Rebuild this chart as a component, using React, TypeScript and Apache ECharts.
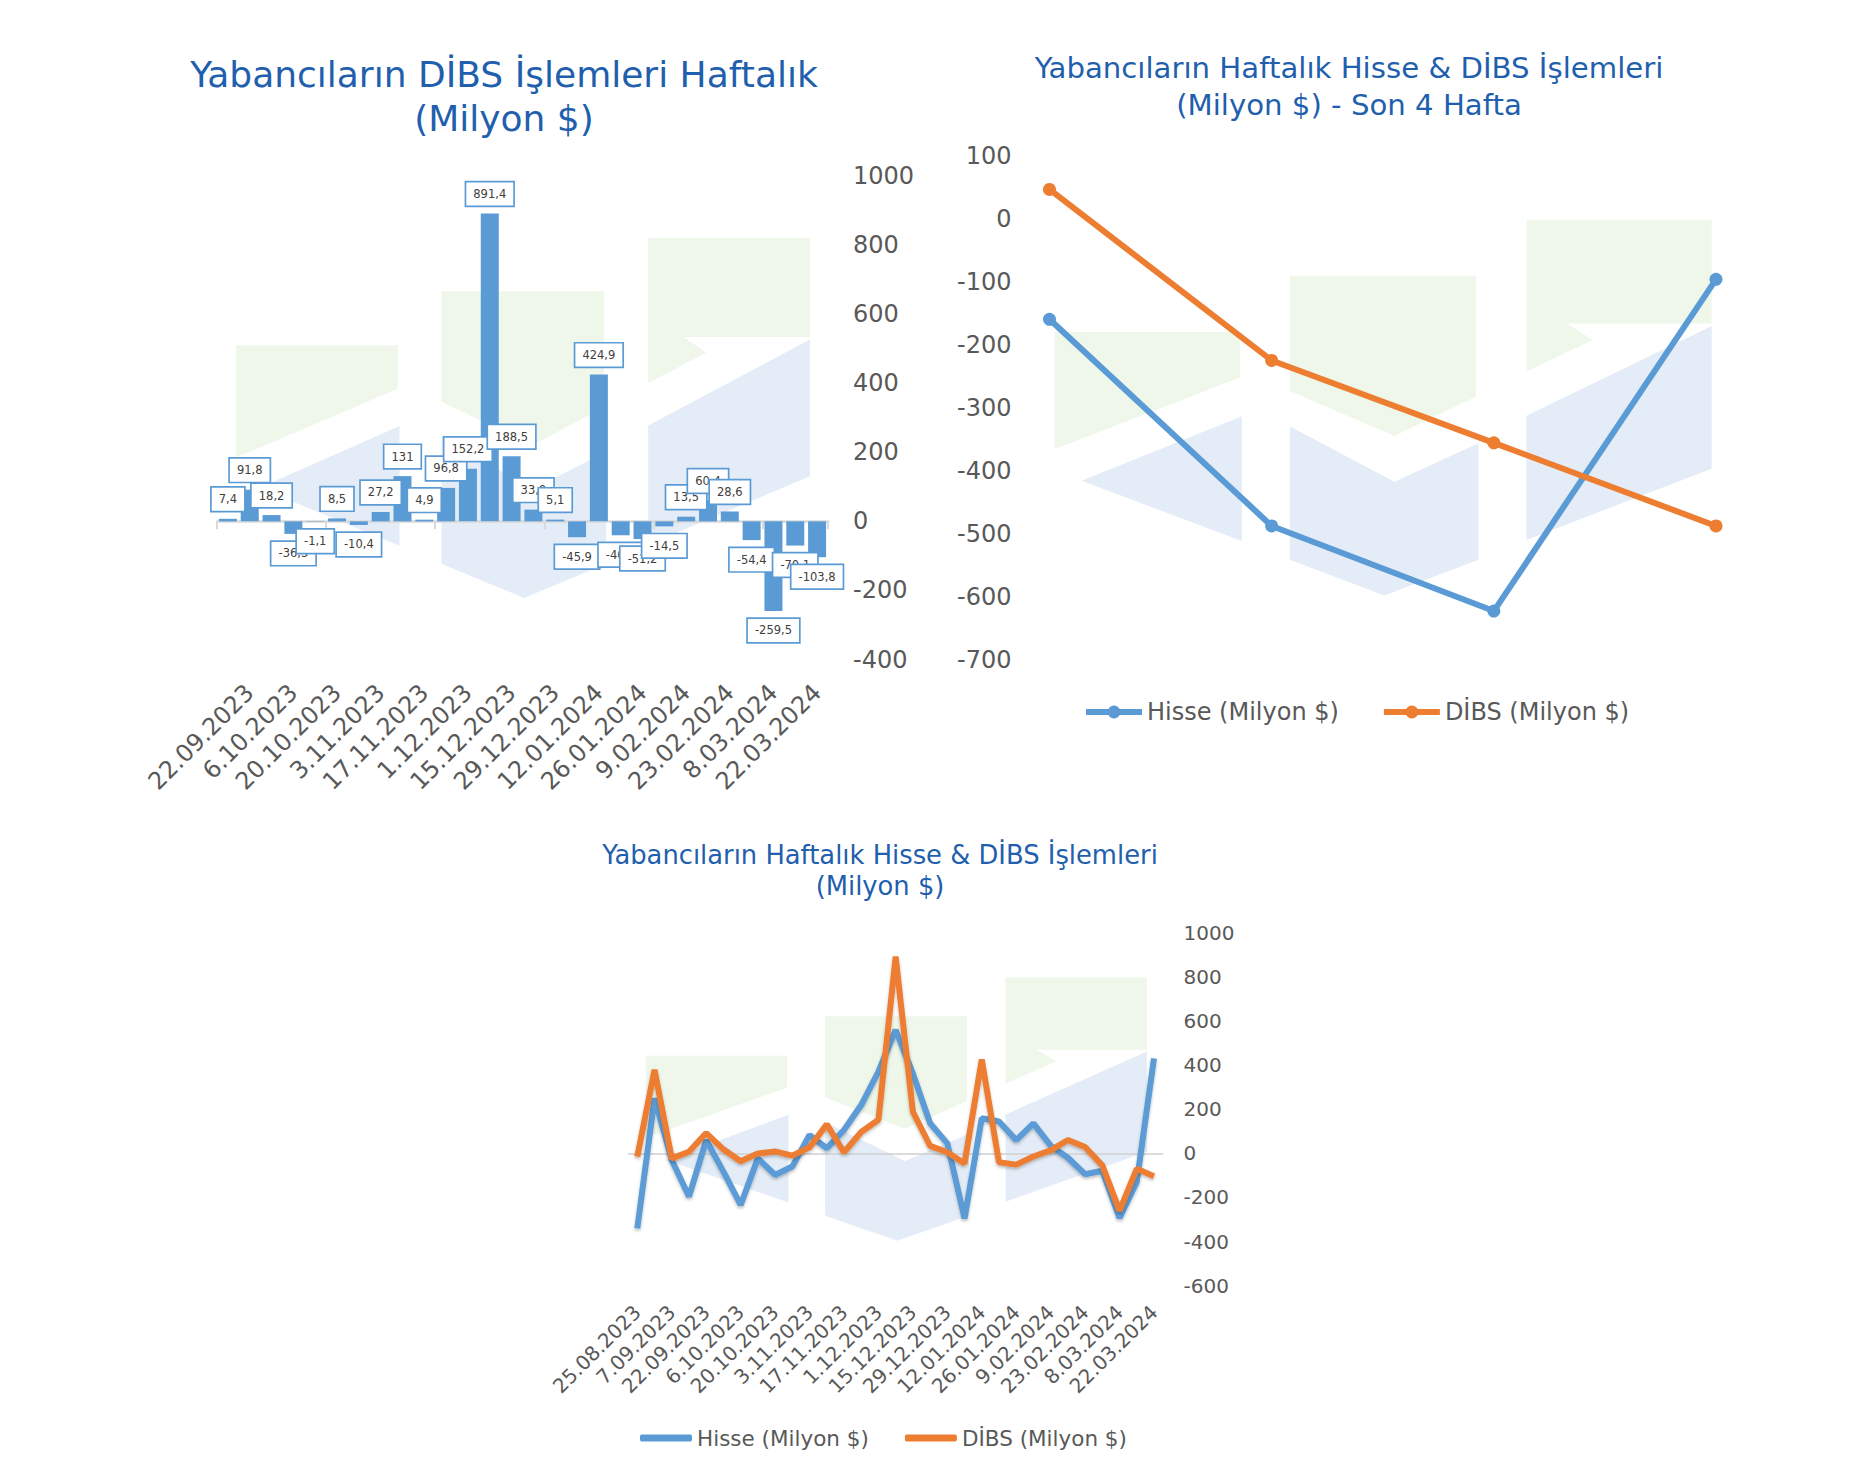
import React, { useEffect, useRef } from 'react';
import * as echarts from 'echarts';

const FONT = 'DejaVu Sans';
const BLUE = '#5B9BD5';
const ORANGE = '#ED7D31';
const AXIS_TEXT = '#595959';
const LABEL_TEXT = '#404040';
const TITLE_COLOR = '#1F5FAD';
const LOGO_GREEN_COLOR = '#eff7ea';
const LOGO_BLUE_COLOR = '#e4edf7';

// ---- Chart 1: weekly DİBS (bars)
const weeklyDates = [
  '15.09.2023', '22.09.2023', '29.09.2023', '6.10.2023', '13.10.2023', '20.10.2023', '27.10.2023',
  '3.11.2023', '10.11.2023', '17.11.2023', '24.11.2023', '1.12.2023', '8.12.2023', '15.12.2023',
  '22.12.2023', '29.12.2023', '5.01.2024', '12.01.2024', '19.01.2024', '26.01.2024', '2.02.2024',
  '9.02.2024', '16.02.2024', '23.02.2024', '1.03.2024', '8.03.2024', '15.03.2024', '22.03.2024',
];
const weeklyDibs = [
  7.4, 91.8, 18.2, -36.3, -1.1, 8.5, -10.4, 27.2, 131, 4.9, 96.8, 152.2, 891.4, 188.5,
  33.9, 5.1, -45.9, 424.9, -40.3, -51.2, -14.5, 13.5, 60.4, 28.6, -54.4, -259.5, -70.1, -103.8,
];

// ---- Chart 2: last 4 weeks
const last4Dates = ['1.03.2024', '8.03.2024', '15.03.2024', '22.03.2024'];
const last4Hisse = [-159.2, -487.7, -623, -95.7];
const last4Dibs = [47.2, -224.7, -355.6, -487.7];

// ---- Chart 3: weekly Hisse & DİBS
const longDates = [
  '25.08.2023', '1.09.2023', '7.09.2023', ...weeklyDates,
];
const longHisse = [
  -340, 249, -30, -196, 60, -83, -234, -23, -98, -60, 83, 23, 106, 219, 370, 559,
  362, 136, 45, -295, 159, 144, 60, 136, 35, -20, -95, -79, -293, -130, 430,
];
const earlyDibs = [-15, 378, -23];
const longDibs = [...earlyDibs, ...weeklyDibs];

const HISSE = 'Hisse (Milyon $)';
const DIBS = 'DİBS (Milyon $)';

// watermark logo, normalized shapes
const LOGO_GREEN = [
  [[0, 0.298], [0.282, 0.298], [0.282, 0.419], [0, 0.61]],
  [[0.358, 0.148], [0.641, 0.148], [0.641, 0.47], [0.517, 0.575], [0.358, 0.455]],
  [[0.718, 0], [1, 0], [1, 0.275], [0.78, 0.275], [0.819, 0.319], [0.718, 0.403]],
];
const LOGO_BLUE = [
  [[0.285, 0.522], [0.285, 0.855], [0.041, 0.694]],
  [[0.358, 0.549], [0.517, 0.697], [0.645, 0.594], [0.645, 0.905], [0.502, 1], [0.358, 0.905]],
  [[0.718, 0.521], [1, 0.282], [1, 0.662], [0.718, 0.852]],
];
const LOGO_BOXES = [
  { x: 236, y: 238, w: 574, h: 360 },
  { x: 1054.6, y: 220.3, w: 657.1, h: 375.2 },
  { x: 645.6, y: 977.3, w: 501.3, h: 263.4 },
];

function logoElements() {
  const els: any[] = [];
  LOGO_BOXES.forEach((b) => {
    const mk = (shapes: number[][][], color: string) =>
      shapes.forEach((pts) =>
        els.push({
          type: 'polygon',
          z: -10,
          silent: true,
          shape: { points: pts.map(([u, v]) => [b.x + u * b.w, b.y + v * b.h]) },
          style: { fill: color },
        })
      );
    mk(LOGO_GREEN, LOGO_GREEN_COLOR);
    mk(LOGO_BLUE, LOGO_BLUE_COLOR);
  });
  return els;
}

const fmt = (v: number) => String(v).replace('.', ',');
const plain = (v: number) => String(v);

function buildOption(): any {
  const axisLabelBase = { color: AXIS_TEXT, fontFamily: FONT };
  return {
    animation: false,
    textStyle: { fontFamily: FONT },
    graphic: { elements: logoElements() },
    title: [
      {
        text: 'Yabancıların DİBS İşlemleri Haftalık\n(Milyon $)',
        left: 504, top: 52, textAlign: 'center', padding: 0,
        textStyle: { fontSize: 36, lineHeight: 44, fontWeight: 'normal', color: TITLE_COLOR, fontFamily: FONT },
      },
      {
        text: 'Yabancıların Haftalık Hisse & DİBS İşlemleri\n(Milyon $) - Son 4 Hafta',
        left: 1349, top: 49, textAlign: 'center', padding: 0,
        textStyle: { fontSize: 29.2, lineHeight: 37, fontWeight: 'normal', color: TITLE_COLOR, fontFamily: FONT },
      },
      {
        text: 'Yabancıların Haftalık Hisse & DİBS İşlemleri\n(Milyon $)',
        left: 880, top: 839, textAlign: 'center', padding: 0,
        textStyle: { fontSize: 25.8, lineHeight: 31, fontWeight: 'normal', color: TITLE_COLOR, fontFamily: FONT },
      },
    ],
    grid: [
      { left: 217, top: 176, width: 611, height: 483.5 },
      { left: 1049.5, top: 156.2, width: 666.5, height: 503.3 },
      { left: 628.7, top: 932.7, width: 533.9, height: 353 },
    ],
    xAxis: [
      {
        type: 'category', gridIndex: 0, data: weeklyDates,
        axisLine: { onZero: true, lineStyle: { color: '#d9d9d9', width: 2.5 } },
        axisTick: { show: true, length: 8, lineStyle: { color: '#d9d9d9', width: 2 } },
        axisLabel: { show: false }, splitLine: { show: false },
      },
      {
        type: 'category', gridIndex: 0, data: weeklyDates, position: 'bottom',
        axisLine: { show: false, onZero: false }, axisTick: { show: false }, splitLine: { show: false },
        axisLabel: { ...axisLabelBase, rotate: 45, fontSize: 24, margin: 29, interval: (i: number) => i % 2 === 1 },
      },
      {
        type: 'category', gridIndex: 1, data: last4Dates, boundaryGap: false,
        axisLine: { show: false }, axisTick: { show: false }, axisLabel: { show: false }, splitLine: { show: false },
      },
      {
        type: 'category', gridIndex: 2, data: longDates,
        axisLine: { onZero: true, lineStyle: { color: '#cfcfcf', width: 1.6 } },
        axisTick: { show: false }, axisLabel: { show: false }, splitLine: { show: false },
      },
      {
        type: 'category', gridIndex: 2, data: longDates, position: 'bottom',
        axisLine: { show: false, onZero: false }, axisTick: { show: false }, splitLine: { show: false },
        axisLabel: { ...axisLabelBase, rotate: 45, fontSize: 20, margin: 23, interval: (i: number) => i % 2 === 0 },
      },
    ],
    yAxis: [
      {
        type: 'value', gridIndex: 0, position: 'right', min: -400, max: 1000, interval: 200,
        axisLine: { show: false }, axisTick: { show: false }, splitLine: { show: false },
        axisLabel: { ...axisLabelBase, fontSize: 24, margin: 25, formatter: plain },
      },
      {
        type: 'value', gridIndex: 1, position: 'left', min: -700, max: 100, interval: 100,
        axisLine: { show: false }, axisTick: { show: false }, splitLine: { show: false },
        axisLabel: { ...axisLabelBase, fontSize: 24, margin: 38, formatter: plain },
      },
      {
        type: 'value', gridIndex: 2, position: 'right', min: -600, max: 1000, interval: 200,
        axisLine: { show: false }, axisTick: { show: false }, splitLine: { show: false },
        axisLabel: { ...axisLabelBase, fontSize: 20, margin: 21, formatter: plain },
      },
    ],
    legend: [
      {
        data: [HISSE, DIBS], left: 1083, top: 700, padding: 0,
        itemWidth: 56, itemHeight: 16, itemGap: 42,
        lineStyle: { width: 6 },
        textStyle: { fontSize: 24, color: AXIS_TEXT, fontFamily: FONT },
      },
      {
        data: [
          { name: HISSE, icon: 'roundRect', itemStyle: { color: BLUE } },
          { name: DIBS, icon: 'roundRect', itemStyle: { color: ORANGE } },
        ],
        left: 640, top: 1427, padding: 0,
        itemWidth: 52, itemHeight: 7, itemGap: 36,
        textStyle: { fontSize: 21.5, color: AXIS_TEXT, fontFamily: FONT },
      },
    ],
    series: [
      {
        type: 'bar', name: 'DİBS Haftalık', xAxisIndex: 0, yAxisIndex: 0, barWidth: 18,
        itemStyle: { color: BLUE },
        label: {
          show: true, distance: 8, fontSize: 11.5, lineHeight: 13, color: LABEL_TEXT, fontFamily: FONT,
          backgroundColor: '#ffffff', borderColor: BLUE, borderWidth: 1.7, padding: [5, 7],
          formatter: (p: any) => fmt(p.value),
        },
        data: weeklyDibs.map((v) => ({ value: v, label: { position: v >= 0 ? 'top' : 'bottom' } })),
      },
      {
        type: 'line', name: HISSE, xAxisIndex: 2, yAxisIndex: 1, data: last4Hisse,
        symbol: 'circle', symbolSize: 13, color: BLUE,
        lineStyle: { width: 6, color: BLUE }, itemStyle: { color: BLUE },
      },
      {
        type: 'line', name: DIBS, xAxisIndex: 2, yAxisIndex: 1, data: last4Dibs,
        symbol: 'circle', symbolSize: 13, color: ORANGE,
        lineStyle: { width: 6, color: ORANGE }, itemStyle: { color: ORANGE },
      },
      {
        type: 'line', name: HISSE, xAxisIndex: 3, yAxisIndex: 2, data: longHisse,
        symbol: 'none', color: BLUE,
        lineStyle: { width: 6, color: BLUE, shadowBlur: 3, shadowColor: 'rgba(0,0,0,0.25)', shadowOffsetY: 2 },
      },
      {
        type: 'line', name: DIBS, xAxisIndex: 3, yAxisIndex: 2, data: longDibs,
        symbol: 'none', color: ORANGE,
        lineStyle: { width: 6, color: ORANGE, shadowBlur: 3, shadowColor: 'rgba(0,0,0,0.25)', shadowOffsetY: 2 },
      },
    ],
  };
}

export default function App() {
  const ref = useRef<HTMLDivElement>(null);
  useEffect(() => {
    if (!ref.current) return;
    const chart = echarts.init(ref.current, null, { renderer: 'svg' });
    chart.setOption(buildOption());
    return () => chart.dispose();
  }, []);
  return (
    <div
      ref={ref}
      style={{ position: 'absolute', left: 0, top: 0, width: 1870, height: 1470, background: '#ffffff' }}
    />
  );
}
